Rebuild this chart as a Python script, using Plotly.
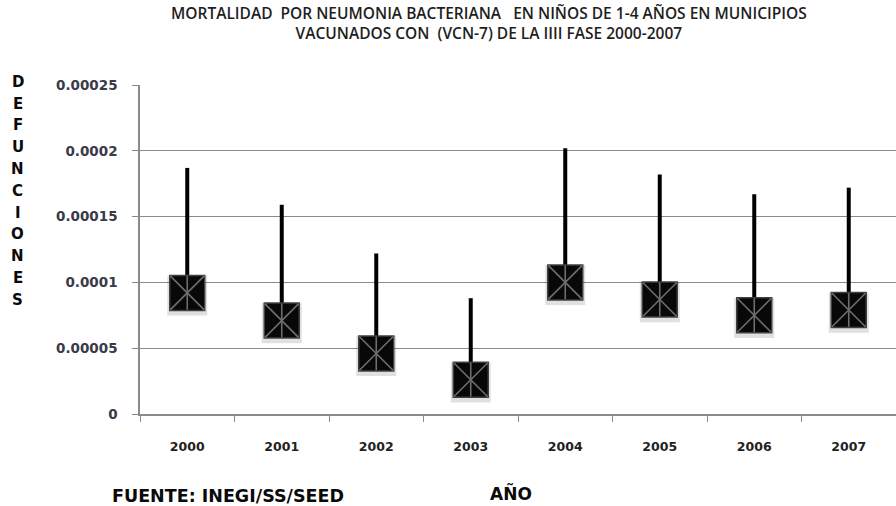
import plotly.graph_objects as go

# Data: pneumonia mortality rate (deaths) by year, with upper interval
years = ["2000", "2001", "2002", "2003", "2004", "2005", "2006", "2007"]
rate = [0.000092, 0.000071, 0.000046, 0.000026, 0.000100, 0.000087, 0.000075, 0.000079]
upper = [0.000187, 0.000159, 0.000122, 0.000088, 0.000202, 0.000182, 0.000167, 0.000172]
y_ticks = [0, 0.00005, 0.0001, 0.00015, 0.0002, 0.00025]
y_tick_text = ["0", "0.00005", "0.0001", "0.00015", "0.0002", "0.00025"]

title_lines = [
    "MORTALIDAD  POR NEUMONIA BACTERIANA   EN NIÑOS DE 1-4 AÑOS EN MUNICIPIOS",
    "VACUNADOS CON  (VCN-7) DE LA IIII FASE 2000-2007",
]
y_title = "DEFUNCIONES"
x_title = "AÑO"
source = "FUENTE: INEGI/SS/SEED"

err_plus = [u - r for u, r in zip(upper, rate)]
shadow_y = [r - 0.000002 for r in rate]

fig = go.Figure()

# soft shadow under each square marker
fig.add_trace(go.Scatter(
    x=years, y=shadow_y, mode="markers", hoverinfo="skip",
    marker=dict(symbol="square", size=40, color="rgba(0,0,0,0.12)", line=dict(width=0)),
))

# upper error bars and black square markers
fig.add_trace(go.Scatter(
    x=years, y=rate, mode="markers",
    error_y=dict(type="data", symmetric=False, array=err_plus,
                 arrayminus=[0] * len(rate), color="black", thickness=4, width=0),
    marker=dict(symbol="square", size=35, color="#080808",
                line=dict(color="#404040", width=1.5)),
))

# star overlay inside markers: diagonal cross plus vertical stroke
fig.add_trace(go.Scatter(
    x=years, y=rate, mode="markers", hoverinfo="skip",
    marker=dict(symbol="x-thin-open", size=34, color="#6e6e6e",
                line=dict(color="#6e6e6e", width=1.6)),
))
fig.add_trace(go.Scatter(
    x=years, y=rate, mode="markers", hoverinfo="skip",
    marker=dict(symbol="line-ns-open", size=24, color="#6e6e6e",
                line=dict(color="#6e6e6e", width=1.6)),
))

fig.update_layout(
    width=896, height=506,
    margin=dict(l=140, r=0, t=85, b=92),
    paper_bgcolor="white", plot_bgcolor="white",
    showlegend=False,
    font=dict(family="DejaVu Sans", color="#222"),
)

fig.update_xaxes(
    type="category", categoryorder="array", categoryarray=years,
    showgrid=False, showline=True, linecolor="#8a8a8a", linewidth=1.5,
    ticks="outside", tickson="boundaries", ticklen=6, tickcolor="#8a8a8a",
    tickwidth=1.2, ticklabelstandoff=20,
    tickfont=dict(family="DejaVu Sans", size=12.5, color="#222", weight="bold"),
    range=[-0.5, 7.5],
)

fig.update_yaxes(
    range=[0, 0.00025], tickvals=y_ticks, ticktext=y_tick_text,
    showgrid=True, gridcolor="#8a8a8a", gridwidth=1.3,
    showline=True, linecolor="#8a8a8a", linewidth=1.5,
    ticks="outside", ticklen=6, tickcolor="#8a8a8a", tickwidth=1.2,
    ticklabelstandoff=12, zeroline=False,
    tickfont=dict(family="DejaVu Sans", size=13.5, color="#3a3a48", weight="bold"),
)

# two-line chart title
fig.add_annotation(
    text="<br>".join(title_lines), xref="paper", yref="paper",
    x=0.4616, y=1.187, xanchor="center", yanchor="middle", align="center",
    showarrow=False,
    font=dict(family="Open Sans", size=15.5, color="#1e1e1e", weight=600),
)

# vertical stacked axis title, one letter per row
for i, ch in enumerate(y_title):
    fig.add_annotation(
        text=ch, xref="paper", yref="paper", x=-0.162, y=1.01 - i * 0.0663,
        xanchor="center", yanchor="middle", showarrow=False,
        font=dict(family="DejaVu Sans", size=15, color="#0a0a0a", weight="bold"),
    )

fig.add_annotation(
    text=x_title, xref="paper", yref="paper", x=0.491, y=-0.24,
    xanchor="center", yanchor="middle", showarrow=False,
    font=dict(family="DejaVu Sans", size=17, color="#0a0a0a", weight="bold"),
)
fig.add_annotation(
    text=source, xref="paper", yref="paper", x=-0.04, y=-0.248,
    xanchor="left", yanchor="middle", showarrow=False,
    font=dict(family="DejaVu Sans", size=17.5, color="#0a0a0a", weight="bold"),
)

fig.write_html("out.html")
